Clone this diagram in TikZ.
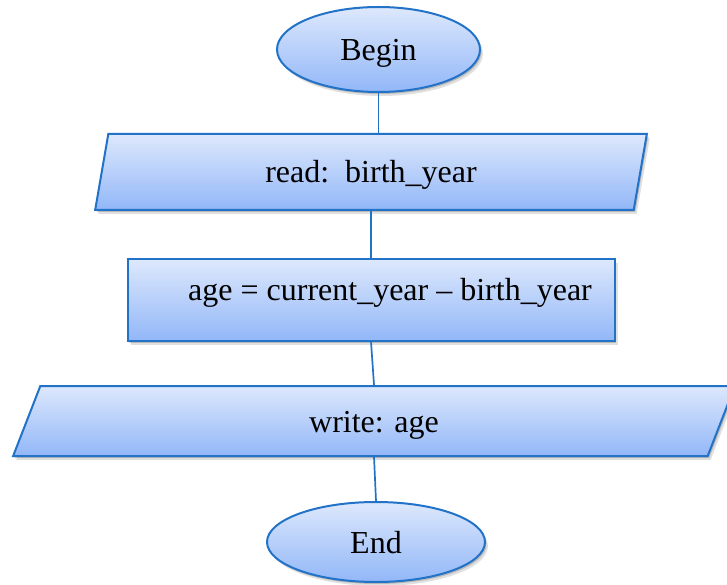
\documentclass[tikz,border=0pt]{standalone}
\usepackage{fontspec}
\setmainfont{Liberation Serif}
\usetikzlibrary{shapes.geometric,shadows}
\definecolor{edgeblue}{RGB}{34,114,200}
\definecolor{filltop}{RGB}{221,232,252}
\definecolor{fillbottom}{RGB}{146,183,248}
\tikzset{
  softshadow/.style={
    general shadow={shadow xshift=1.5pt, shadow yshift=-2pt, fill=black, opacity=0.18},
    general shadow={shadow xshift=3pt, shadow yshift=-4pt, fill=black, opacity=0.12}},
  flowbox/.style={draw=edgeblue, line width=2pt, top color=filltop,
    bottom color=fillbottom, inner sep=0pt, softshadow,
    text height=22pt, text depth=0pt,
    font=\fontsize{32}{37}\selectfont},
  terminal/.style={flowbox, ellipse},
  iobox/.style={flowbox, trapezium, trapezium left angle=76.5,
    trapezium right angle=103.5, trapezium stretches=true},
  procbox/.style={flowbox, rectangle},
  label text/.style={font=\fontsize{32}{37}\selectfont, inner sep=0pt},
  link/.style={draw=edgeblue, line width=1.7pt}
}
\begin{document}
\begin{tikzpicture}[x=1pt, y=-1pt]
  \useasboundingbox (0,0) rectangle (727,585);
  \begin{scope}
    \clip (0,0) rectangle (727,585);
    \node[terminal, minimum width=203pt, minimum height=85pt] (begin) at (378.5,49.5) {Begin};
    \node[iobox, minimum width=552pt, minimum height=76pt] (read) at (371,172) {read:\ \ birth\_year};
    \node[procbox, minimum width=487pt, minimum height=81.5pt] (calc) at (371,300) {};
    \node[label text, anchor=base] (calctext) at (390,300) {age = current\_year -- birth\_year};
    \node[iobox, minimum width=722pt, minimum height=70pt] (write) at (374,421) {write: age};
    \node[terminal, minimum width=218pt, minimum height=80pt] (end) at (376,542) {End};

    \draw[link] (begin.south) -- (begin.south |- read.north);
    \draw[link] (read.south) -- (read.south |- calc.north);
    \draw[link] (calc.south) -- (write.north);
    \draw[link] (write.south) -- (end.north);
  \end{scope}
\end{tikzpicture}
\end{document}
